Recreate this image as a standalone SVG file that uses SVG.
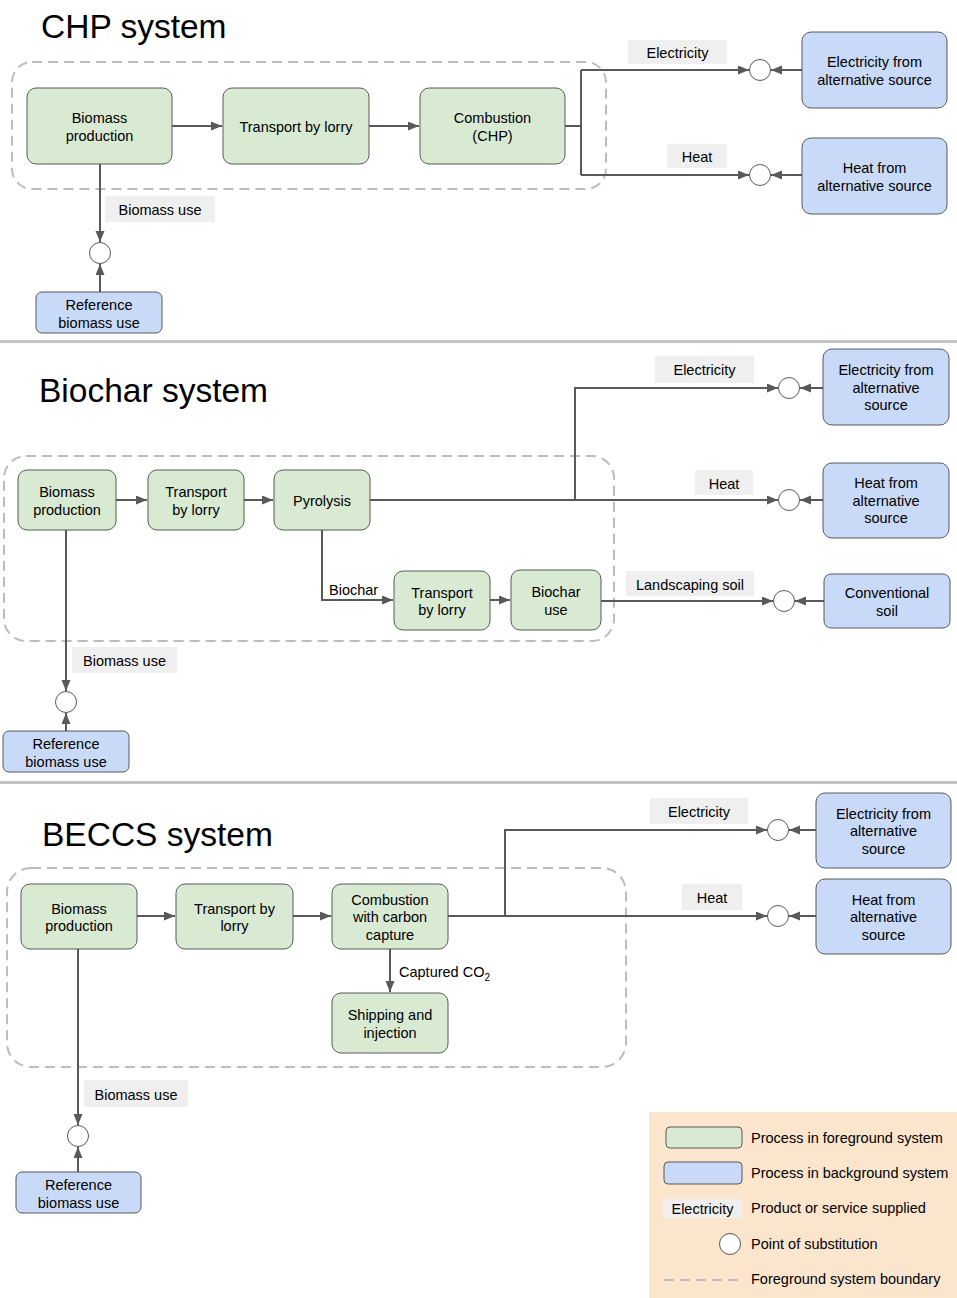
<svg xmlns="http://www.w3.org/2000/svg" width="957" height="1298" viewBox="0 0 957 1298">
<style>
text{font-family:"Liberation Sans",Arial,sans-serif;font-size:14.5px;fill:#000}
.t{text-anchor:middle}
.title{font-size:33.5px}
.fg{fill:#d9ead3;stroke:#595959;stroke-width:1}
.bg{fill:#c9daf8;stroke:#595959;stroke-width:1}
.lab{fill:#efefef}
.sub{fill:#fff;stroke:#595959;stroke-width:1}
.bd{fill:none;stroke:#bcbcbc;stroke-width:2;stroke-dasharray:10 6}
.c{fill:none;stroke:#595959;stroke-width:2}
.a{marker-end:url(#ah)}
.sep{fill:#c3c3c3}
</style>
<defs>
<marker id="ah" markerUnits="userSpaceOnUse" markerWidth="12" markerHeight="10" refX="11" refY="4.5" orient="auto">
<path d="M0,0 L11,4.5 L0,9 z" fill="#595959"/>
</marker>
</defs>
<rect width="957" height="1298" fill="#fff"/>
<rect class="sep" x="0" y="340" width="957" height="3"/>
<rect class="sep" x="0" y="781" width="957" height="3"/>

<g id="titles">
<text class="title" x="41" y="38">CHP system</text>
<text class="title" x="39" y="402">Biochar system</text>
<text class="title" x="42" y="846">BECCS system</text>
</g>

<g id="boundaries">
<rect class="bd" x="12" y="62" width="594" height="127" rx="20"/>
<rect class="bd" x="4" y="456" width="610" height="185" rx="22"/>
<rect class="bd" x="7" y="868" width="619" height="199" rx="24"/>
</g>

<g id="connectors">
<path class="c a" d="M172,126 H222"/>
<path class="c a" d="M369,126 H419"/>
<path class="c" d="M565,126 H581 M581,70 V175"/>
<path class="c a" d="M581,70 H749"/>
<path class="c a" d="M581,175 H749"/>
<path class="c a" d="M802,70 H771"/>
<path class="c a" d="M802,175 H771"/>
<path class="c a" d="M100,164 V242"/>
<path class="c a" d="M100,292 V264"/>
<path class="c a" d="M116,500 H147"/>
<path class="c a" d="M244,500 H273"/>
<path class="c a" d="M370,500 H778"/>
<path class="c a" d="M575,500 V388 H778"/>
<path class="c a" d="M823,388 H800"/>
<path class="c a" d="M823,500 H800"/>
<path class="c a" d="M322,530 V600 H393"/>
<path class="c a" d="M490,600 H510"/>
<path class="c a" d="M601,601 H773"/>
<path class="c a" d="M824,601 H795"/>
<path class="c a" d="M66,530 V691"/>
<path class="c a" d="M66,731 V713"/>
<path class="c a" d="M137,916 H175"/>
<path class="c a" d="M293,916 H331"/>
<path class="c a" d="M448,916 H767"/>
<path class="c a" d="M505,916 V830 H767"/>
<path class="c a" d="M816,830 H789"/>
<path class="c a" d="M816,916 H789"/>
<path class="c a" d="M390,949 V992"/>
<path class="c a" d="M78,949 V1125"/>
<path class="c a" d="M78,1172 V1147"/>
</g>

<g id="labels">
<rect class="lab" x="628" y="40" width="99" height="24"/><text class="t" x="677.5" y="58">Electricity</text>
<rect class="lab" x="667" y="144" width="60" height="24"/><text class="t" x="697" y="162">Heat</text>
<rect class="lab" x="105" y="196" width="110" height="26"/><text class="t" x="160" y="215">Biomass use</text>
<rect class="lab" x="655" y="356" width="99" height="27"/><text class="t" x="704.5" y="375">Electricity</text>
<rect class="lab" x="695" y="470" width="58" height="25"/><text class="t" x="724" y="488.5">Heat</text>
<rect class="lab" x="626" y="571" width="128" height="25"/><text class="t" x="690" y="589.5">Landscaping soil</text>
<text x="329" y="594.5">Biochar</text>
<rect class="lab" x="72" y="647" width="105" height="26"/><text class="t" x="124.5" y="666">Biomass use</text>
<rect class="lab" x="650" y="798" width="98" height="26"/><text class="t" x="699" y="817">Electricity</text>
<rect class="lab" x="682" y="884" width="60" height="26"/><text class="t" x="712" y="903">Heat</text>
<text x="399" y="977">Captured CO<tspan font-size="10" dy="4">2</tspan></text>
<rect class="lab" x="84" y="1080" width="104" height="27"/><text class="t" x="136" y="1099.5">Biomass use</text>
</g>

<g id="substitution-points">
<circle class="sub" cx="760" cy="70" r="10.5"/>
<circle class="sub" cx="760" cy="175" r="10.5"/>
<circle class="sub" cx="100" cy="253" r="10.5"/>
<circle class="sub" cx="789" cy="388" r="10.5"/>
<circle class="sub" cx="789" cy="500" r="10.5"/>
<circle class="sub" cx="784" cy="601" r="10.5"/>
<circle class="sub" cx="66" cy="702" r="10.5"/>
<circle class="sub" cx="778" cy="830" r="10.5"/>
<circle class="sub" cx="778" cy="916" r="10.5"/>
<circle class="sub" cx="78" cy="1136" r="10.5"/>
</g>

<g id="chp-biomass"><rect class="fg" x="27" y="88" width="145" height="76" rx="9"/><text class="t" x="99.5" y="123.2">Biomass</text><text class="t" x="99.5" y="140.7">production</text></g>
<g id="chp-transport"><rect class="fg" x="223" y="88" width="146" height="76" rx="9"/><text class="t" x="296" y="132">Transport by lorry</text></g>
<g id="chp-combustion"><rect class="fg" x="420" y="88" width="145" height="76" rx="9"/><text class="t" x="492.5" y="123.2">Combustion</text><text class="t" x="492.5" y="140.7">(CHP)</text></g>
<g id="chp-elec-alt"><rect class="bg" x="802" y="32" width="145" height="76" rx="9"/><text class="t" x="874.5" y="67.2">Electricity from</text><text class="t" x="874.5" y="84.7">alternative source</text></g>
<g id="chp-heat-alt"><rect class="bg" x="802" y="138" width="145" height="76" rx="9"/><text class="t" x="874.5" y="173.2">Heat from</text><text class="t" x="874.5" y="190.7">alternative source</text></g>
<g id="chp-ref"><rect class="bg" x="36" y="292" width="126" height="41" rx="6"/><text class="t" x="99" y="310">Reference</text><text class="t" x="99" y="327.5">biomass use</text></g>

<g id="bc-biomass"><rect class="fg" x="18" y="470" width="98" height="60" rx="9"/><text class="t" x="67" y="497.2">Biomass</text><text class="t" x="67" y="514.7">production</text></g>
<g id="bc-transport1"><rect class="fg" x="148" y="470" width="96" height="60" rx="9"/><text class="t" x="196" y="497.2">Transport</text><text class="t" x="196" y="514.7">by lorry</text></g>
<g id="bc-pyrolysis"><rect class="fg" x="274" y="470" width="96" height="60" rx="9"/><text class="t" x="322" y="506">Pyrolysis</text></g>
<g id="bc-transport2"><rect class="fg" x="394" y="571" width="96" height="59" rx="9"/><text class="t" x="442" y="597.7">Transport</text><text class="t" x="442" y="615.2">by lorry</text></g>
<g id="bc-use"><rect class="fg" x="511" y="570" width="90" height="60" rx="9"/><text class="t" x="556" y="597.2">Biochar</text><text class="t" x="556" y="614.7">use</text></g>
<g id="bc-elec-alt"><rect class="bg" x="823" y="349" width="126" height="76" rx="9"/><text class="t" x="886" y="375.3">Electricity from</text><text class="t" x="886" y="392.8">alternative</text><text class="t" x="886" y="410.3">source</text></g>
<g id="bc-heat-alt"><rect class="bg" x="823" y="463" width="126" height="75" rx="9"/><text class="t" x="886" y="488.3">Heat from</text><text class="t" x="886" y="505.8">alternative</text><text class="t" x="886" y="523.3">source</text></g>
<g id="bc-soil"><rect class="bg" x="824" y="574" width="126" height="54" rx="7"/><text class="t" x="887" y="598.2">Conventional</text><text class="t" x="887" y="615.7">soil</text></g>
<g id="bc-ref"><rect class="bg" x="3" y="731" width="126" height="41" rx="6"/><text class="t" x="66" y="749">Reference</text><text class="t" x="66" y="766.5">biomass use</text></g>

<g id="be-biomass"><rect class="fg" x="21" y="884" width="116" height="65" rx="9"/><text class="t" x="79" y="913.7">Biomass</text><text class="t" x="79" y="931.2">production</text></g>
<g id="be-transport"><rect class="fg" x="176" y="884" width="117" height="65" rx="9"/><text class="t" x="234.5" y="913.7">Transport by</text><text class="t" x="234.5" y="931.2">lorry</text></g>
<g id="be-combustion"><rect class="fg" x="332" y="884" width="116" height="65" rx="9"/><text class="t" x="390" y="904.8">Combustion</text><text class="t" x="390" y="922.3">with carbon</text><text class="t" x="390" y="939.8">capture</text></g>
<g id="be-shipping"><rect class="fg" x="332" y="993" width="116" height="60" rx="9"/><text class="t" x="390" y="1020.2">Shipping and</text><text class="t" x="390" y="1037.7">injection</text></g>
<g id="be-elec-alt"><rect class="bg" x="816" y="793" width="135" height="75" rx="9"/><text class="t" x="883.5" y="818.8">Electricity from</text><text class="t" x="883.5" y="836.3">alternative</text><text class="t" x="883.5" y="853.8">source</text></g>
<g id="be-heat-alt"><rect class="bg" x="816" y="879" width="135" height="75" rx="9"/><text class="t" x="883.5" y="904.8">Heat from</text><text class="t" x="883.5" y="922.3">alternative</text><text class="t" x="883.5" y="939.8">source</text></g>
<g id="be-ref"><rect class="bg" x="16" y="1172" width="125" height="41" rx="6"/><text class="t" x="78.5" y="1190">Reference</text><text class="t" x="78.5" y="1207.5">biomass use</text></g>

<g id="legend">
<rect x="649" y="1112" width="308" height="186" fill="#fce5cd"/>
<rect class="fg" x="666" y="1127" width="76" height="21" rx="4"/>
<text x="751" y="1143">Process in foreground system</text>
<rect class="bg" x="664" y="1162" width="78" height="22" rx="4"/>
<text x="751" y="1178">Process in background system</text>
<rect class="lab" x="663" y="1199" width="79" height="19"/>
<text class="t" x="702.5" y="1213.5" font-size="12.5">Electricity</text>
<text x="751" y="1213">Product or service supplied</text>
<circle class="sub" cx="730" cy="1244" r="10.5"/>
<text x="751" y="1249">Point of substitution</text>
<path class="bd" d="M664,1280 H742"/>
<text x="751" y="1284">Foreground system boundary</text>
</g>
</svg>
